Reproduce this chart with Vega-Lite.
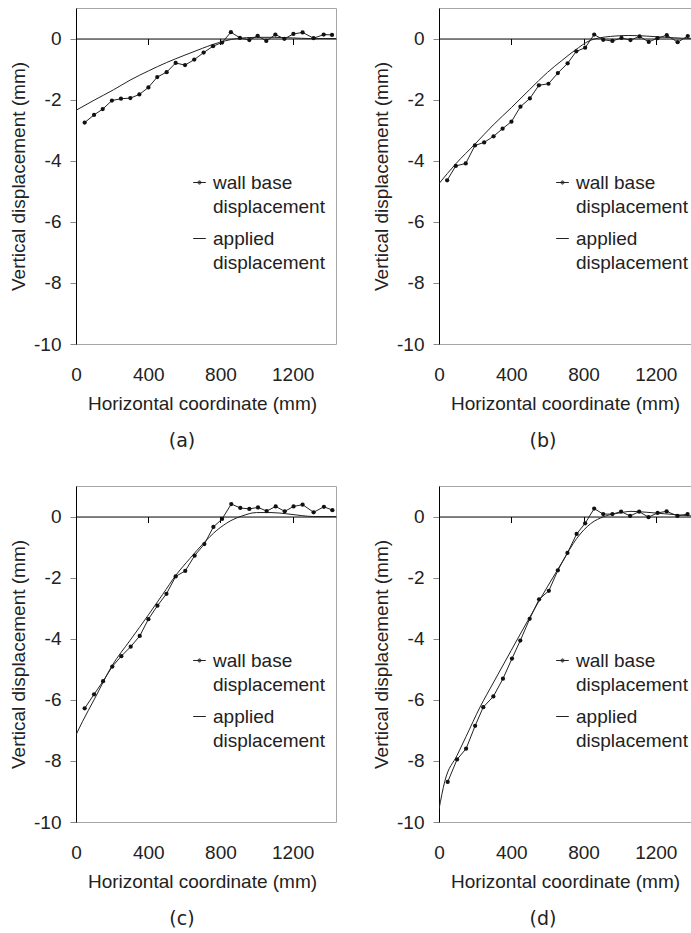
{
  "$schema": "https://vega.github.io/schema/vega-lite/v6.json",
  "autosize": {"type": "pad"},
  "padding": {"left": 9, "top": 7, "right": 0, "bottom": 0},
  "background": "white",
  "columns": 2,
  "spacing": {"row": 142, "column": 103},
  "bounds": "flush",
  "data": {"values": [
    {"p":"a","s":"wall","x":48,"y":-2.75},{"p":"a","s":"wall","x":100,"y":-2.5},{"p":"a","s":"wall","x":148,"y":-2.31},{"p":"a","s":"wall","x":199,"y":-2.03},{"p":"a","s":"wall","x":249,"y":-1.97},{"p":"a","s":"wall","x":301,"y":-1.95},{"p":"a","s":"wall","x":351,"y":-1.83},{"p":"a","s":"wall","x":401,"y":-1.6},{"p":"a","s":"wall","x":450,"y":-1.26},{"p":"a","s":"wall","x":502,"y":-1.1},{"p":"a","s":"wall","x":552,"y":-0.8},{"p":"a","s":"wall","x":604,"y":-0.87},{"p":"a","s":"wall","x":655,"y":-0.69},{"p":"a","s":"wall","x":707,"y":-0.46},{"p":"a","s":"wall","x":759,"y":-0.25},{"p":"a","s":"wall","x":809,"y":-0.13},{"p":"a","s":"wall","x":858,"y":0.21},{"p":"a","s":"wall","x":908,"y":0.02},{"p":"a","s":"wall","x":960,"y":-0.05},{"p":"a","s":"wall","x":1006,"y":0.09},{"p":"a","s":"wall","x":1054,"y":-0.08},{"p":"a","s":"wall","x":1104,"y":0.13},{"p":"a","s":"wall","x":1154,"y":-0.01},{"p":"a","s":"wall","x":1204,"y":0.15},{"p":"a","s":"wall","x":1255,"y":0.2},{"p":"a","s":"wall","x":1316,"y":0.01},{"p":"a","s":"wall","x":1372,"y":0.13},{"p":"a","s":"wall","x":1418,"y":0.12},
    {"p":"a","s":"applied","x":0,"y":-2.35},{"p":"a","s":"applied","x":100,"y":-2.02},{"p":"a","s":"applied","x":207,"y":-1.68},{"p":"a","s":"applied","x":300,"y":-1.36},{"p":"a","s":"applied","x":401,"y":-1.06},{"p":"a","s":"applied","x":500,"y":-0.79},{"p":"a","s":"applied","x":604,"y":-0.54},{"p":"a","s":"applied","x":700,"y":-0.32},{"p":"a","s":"applied","x":760,"y":-0.19},{"p":"a","s":"applied","x":830,"y":-0.07},{"p":"a","s":"applied","x":890,"y":0},{"p":"a","s":"applied","x":1000,"y":0.04},{"p":"a","s":"applied","x":1100,"y":0.04},{"p":"a","s":"applied","x":1200,"y":0.02},{"p":"a","s":"applied","x":1300,"y":0},{"p":"a","s":"applied","x":1440,"y":0},
    {"p":"b","s":"wall","x":45,"y":-4.64},{"p":"b","s":"wall","x":93,"y":-4.17},{"p":"b","s":"wall","x":148,"y":-4.09},{"p":"b","s":"wall","x":199,"y":-3.5},{"p":"b","s":"wall","x":250,"y":-3.4},{"p":"b","s":"wall","x":302,"y":-3.2},{"p":"b","s":"wall","x":352,"y":-2.95},{"p":"b","s":"wall","x":401,"y":-2.72},{"p":"b","s":"wall","x":451,"y":-2.23},{"p":"b","s":"wall","x":503,"y":-1.96},{"p":"b","s":"wall","x":553,"y":-1.53},{"p":"b","s":"wall","x":606,"y":-1.48},{"p":"b","s":"wall","x":658,"y":-1.13},{"p":"b","s":"wall","x":712,"y":-0.81},{"p":"b","s":"wall","x":760,"y":-0.42},{"p":"b","s":"wall","x":809,"y":-0.3},{"p":"b","s":"wall","x":859,"y":0.13},{"p":"b","s":"wall","x":909,"y":-0.04},{"p":"b","s":"wall","x":960,"y":-0.08},{"p":"b","s":"wall","x":1010,"y":0.02},{"p":"b","s":"wall","x":1060,"y":-0.05},{"p":"b","s":"wall","x":1110,"y":0.07},{"p":"b","s":"wall","x":1161,"y":-0.11},{"p":"b","s":"wall","x":1209,"y":0.01},{"p":"b","s":"wall","x":1261,"y":0.11},{"p":"b","s":"wall","x":1321,"y":-0.12},{"p":"b","s":"wall","x":1377,"y":0.08},
    {"p":"b","s":"applied","x":0,"y":-4.75},{"p":"b","s":"applied","x":93,"y":-4.1},{"p":"b","s":"applied","x":200,"y":-3.45},{"p":"b","s":"applied","x":300,"y":-2.83},{"p":"b","s":"applied","x":401,"y":-2.26},{"p":"b","s":"applied","x":500,"y":-1.68},{"p":"b","s":"applied","x":600,"y":-1.11},{"p":"b","s":"applied","x":680,"y":-0.72},{"p":"b","s":"applied","x":749,"y":-0.4},{"p":"b","s":"applied","x":842,"y":-0.05},{"p":"b","s":"applied","x":950,"y":0.07},{"p":"b","s":"applied","x":1047,"y":0.1},{"p":"b","s":"applied","x":1150,"y":0.08},{"p":"b","s":"applied","x":1250,"y":0.04},{"p":"b","s":"applied","x":1350,"y":0.01},{"p":"b","s":"applied","x":1440,"y":0},
    {"p":"c","s":"wall","x":48,"y":-6.28},{"p":"c","s":"wall","x":100,"y":-5.82},{"p":"c","s":"wall","x":150,"y":-5.39},{"p":"c","s":"wall","x":201,"y":-4.91},{"p":"c","s":"wall","x":251,"y":-4.57},{"p":"c","s":"wall","x":303,"y":-4.26},{"p":"c","s":"wall","x":353,"y":-3.91},{"p":"c","s":"wall","x":401,"y":-3.36},{"p":"c","s":"wall","x":451,"y":-2.92},{"p":"c","s":"wall","x":501,"y":-2.53},{"p":"c","s":"wall","x":552,"y":-1.96},{"p":"c","s":"wall","x":605,"y":-1.78},{"p":"c","s":"wall","x":657,"y":-1.28},{"p":"c","s":"wall","x":711,"y":-0.9},{"p":"c","s":"wall","x":761,"y":-0.34},{"p":"c","s":"wall","x":809,"y":-0.08},{"p":"c","s":"wall","x":860,"y":0.41},{"p":"c","s":"wall","x":910,"y":0.28},{"p":"c","s":"wall","x":960,"y":0.25},{"p":"c","s":"wall","x":1008,"y":0.3},{"p":"c","s":"wall","x":1056,"y":0.18},{"p":"c","s":"wall","x":1106,"y":0.33},{"p":"c","s":"wall","x":1156,"y":0.17},{"p":"c","s":"wall","x":1205,"y":0.33},{"p":"c","s":"wall","x":1255,"y":0.39},{"p":"c","s":"wall","x":1316,"y":0.14},{"p":"c","s":"wall","x":1373,"y":0.32},{"p":"c","s":"wall","x":1420,"y":0.21},
    {"p":"c","s":"applied","x":0,"y":-7.15},{"p":"c","s":"applied","x":37,"y":-6.7},{"p":"c","s":"applied","x":100,"y":-6.0},{"p":"c","s":"applied","x":201,"y":-4.87},{"p":"c","s":"applied","x":300,"y":-4.05},{"p":"c","s":"applied","x":401,"y":-3.22},{"p":"c","s":"applied","x":480,"y":-2.55},{"p":"c","s":"applied","x":552,"y":-1.93},{"p":"c","s":"applied","x":630,"y":-1.38},{"p":"c","s":"applied","x":705,"y":-0.88},{"p":"c","s":"applied","x":780,"y":-0.45},{"p":"c","s":"applied","x":853,"y":-0.15},{"p":"c","s":"applied","x":920,"y":0.02},{"p":"c","s":"applied","x":1000,"y":0.13},{"p":"c","s":"applied","x":1080,"y":0.13},{"p":"c","s":"applied","x":1167,"y":0.09},{"p":"c","s":"applied","x":1250,"y":0.03},{"p":"c","s":"applied","x":1314,"y":0},{"p":"c","s":"applied","x":1440,"y":0},
    {"p":"d","s":"wall","x":48,"y":-8.69},{"p":"d","s":"wall","x":100,"y":-7.95},{"p":"d","s":"wall","x":150,"y":-7.6},{"p":"d","s":"wall","x":200,"y":-6.85},{"p":"d","s":"wall","x":245,"y":-6.24},{"p":"d","s":"wall","x":301,"y":-5.89},{"p":"d","s":"wall","x":354,"y":-5.31},{"p":"d","s":"wall","x":404,"y":-4.65},{"p":"d","s":"wall","x":450,"y":-4.06},{"p":"d","s":"wall","x":502,"y":-3.35},{"p":"d","s":"wall","x":554,"y":-2.71},{"p":"d","s":"wall","x":608,"y":-2.43},{"p":"d","s":"wall","x":658,"y":-1.76},{"p":"d","s":"wall","x":711,"y":-1.19},{"p":"d","s":"wall","x":762,"y":-0.57},{"p":"d","s":"wall","x":809,"y":-0.22},{"p":"d","s":"wall","x":859,"y":0.26},{"p":"d","s":"wall","x":909,"y":0.08},{"p":"d","s":"wall","x":960,"y":0.08},{"p":"d","s":"wall","x":1008,"y":0.16},{"p":"d","s":"wall","x":1058,"y":0.02},{"p":"d","s":"wall","x":1108,"y":0.16},{"p":"d","s":"wall","x":1160,"y":-0.02},{"p":"d","s":"wall","x":1210,"y":0.12},{"p":"d","s":"wall","x":1260,"y":0.17},{"p":"d","s":"wall","x":1320,"y":0.02},{"p":"d","s":"wall","x":1376,"y":0.08},
    {"p":"d","s":"applied","x":0,"y":-9.58},{"p":"d","s":"applied","x":32,"y":-8.67},{"p":"d","s":"applied","x":100,"y":-7.82},{"p":"d","s":"applied","x":150,"y":-7.2},{"p":"d","s":"applied","x":227,"y":-6.24},{"p":"d","s":"applied","x":300,"y":-5.45},{"p":"d","s":"applied","x":400,"y":-4.38},{"p":"d","s":"applied","x":500,"y":-3.32},{"p":"d","s":"applied","x":600,"y":-2.3},{"p":"d","s":"applied","x":683,"y":-1.48},{"p":"d","s":"applied","x":762,"y":-0.72},{"p":"d","s":"applied","x":840,"y":-0.23},{"p":"d","s":"applied","x":914,"y":0},{"p":"d","s":"applied","x":1000,"y":0.12},{"p":"d","s":"applied","x":1063,"y":0.17},{"p":"d","s":"applied","x":1150,"y":0.14},{"p":"d","s":"applied","x":1250,"y":0.09},{"p":"d","s":"applied","x":1398,"y":0.02},{"p":"d","s":"applied","x":1440,"y":0}
  ]},
  "resolve": {
    "scale": {"x": "independent", "y": "independent", "shape": "independent"},
    "legend": {"shape": "independent"}
  },
  "config": {
    "view": {"stroke": "#a6a6a6", "strokeWidth": 1},
    "axis": {"labelFont": "Liberation Sans", "titleFont": "Liberation Sans", "labelFontSize": 19, "titleFontSize": 19, "labelColor": "#222", "titleColor": "#222", "titleFontWeight": "normal", "grid": false},
    "legend": {"labelFont": "Liberation Sans", "labelFontSize": 19, "labelColor": "#222"},
    "style": {"guide-label": {"lineHeight": 24.5}},
    "title": {"font": "DejaVu Sans", "fontSize": 19, "fontWeight": "normal", "color": "#222"}
  },
  "concat": [
    {
      "width": 260, "height": 336,
      "title": {"text": "(a)", "orient": "bottom", "frame": "group", "anchor": "middle", "dx": -24, "offset": 19},
      "transform": [{"filter": "datum.p == 'a'"}],
      "resolve": {"axis": {"x": "independent"}},
      "layer": [
        {"transform": [{"filter": "datum.s == 'applied'"}],
         "mark": {"type": "line", "interpolate": "monotone", "color": "#222", "strokeWidth": 1, "clip": true},
         "encoding": {
           "x": {"field": "x", "type": "quantitative", "scale": {"domain": [0, 1440], "nice": false, "zero": false},
                 "axis": {"orient": "bottom", "values": [0, 400, 800, 1200], "labelExpr": "'' + datum.value", "domain": false, "ticks": false, "tickSize": 0, "labelPadding": 21, "labelFlush": false, "title": "Horizontal coordinate (mm)", "titlePadding": 10, "titleX": 126}},
           "y": {"field": "y", "type": "quantitative", "scale": {"domain": [-10, 1], "nice": false, "zero": false},
                 "axis": {"values": [-10, -8, -6, -4, -2, 0], "labelExpr": "datum.value == 0 ? '0\u00a0' : '' + datum.value", "domainColor": "#000", "tickColor": "#888", "tickSize": 6, "labelPadding": 9, "title": "Vertical displacement (mm)", "titlePadding": 5}}
         }},
        {"transform": [{"filter": "datum.s == 'wall'"}],
         "mark": {"type": "line", "color": "#222", "strokeWidth": 1, "clip": true},
         "encoding": {
           "x": {"field": "x", "type": "quantitative", "axis": {"orient": "top", "offset": -30.545, "values": [400, 800, 1200], "labels": false, "title": null, "domainColor": "#000", "tickColor": "#000", "tickSize": -6}},
           "y": {"field": "y", "type": "quantitative"}
         }},
        {"transform": [{"filter": "datum.s == 'wall'"}],
         "mark": {"type": "point", "filled": true, "color": "#111", "size": 18, "opacity": 1, "clip": true},
         "encoding": {"x": {"field": "x", "type": "quantitative", "axis": null}, "y": {"field": "y", "type": "quantitative"}}},
        {"transform": [{"filter": "false"}],
         "mark": {"type": "point", "filled": false, "color": "#222", "strokeWidth": 1, "opacity": 1},
         "encoding": {"shape": {"field": "s", "type": "nominal",
           "scale": {"domain": ["wall", "applied"], "range": ["M-1,0H1M-0.1,0A0.1,0.1,0,1,1,0.1,0A0.1,0.1,0,1,1,-0.1,0ZM-0.25,0A0.25,0.25,0,1,1,0.25,0A0.25,0.25,0,1,1,-0.25,0Z", "M-1,0H1"]},
           "legend": {"orient": "none", "legendX": 114, "legendY": 165, "title": null, "padding": 0, "symbolSize": 160, "symbolStrokeWidth": 1, "symbolStrokeColor": "#222", "labelOffset": 4, "rowPadding": 12,
             "labelExpr": "datum.value == 'wall' ? ['wall base', 'displacement'] : ['applied', 'displacement']"}}}}
      ]
    },
    {
      "width": 252, "height": 336,
      "title": {"text": "(b)", "orient": "bottom", "frame": "group", "anchor": "middle", "dx": -22, "offset": 19},
      "transform": [{"filter": "datum.p == 'b'"}],
      "resolve": {"axis": {"x": "independent"}},
      "layer": [
        {"transform": [{"filter": "datum.s == 'applied'"}],
         "mark": {"type": "line", "interpolate": "monotone", "color": "#222", "strokeWidth": 1, "clip": true},
         "encoding": {
           "x": {"field": "x", "type": "quantitative", "scale": {"domain": [0, 1395], "nice": false, "zero": false},
                 "axis": {"orient": "bottom", "values": [0, 400, 800, 1200], "labelExpr": "'' + datum.value", "domain": false, "ticks": false, "tickSize": 0, "labelPadding": 21, "labelFlush": false, "title": "Horizontal coordinate (mm)", "titlePadding": 10, "titleX": 126}},
           "y": {"field": "y", "type": "quantitative", "scale": {"domain": [-10, 1], "nice": false, "zero": false},
                 "axis": {"values": [-10, -8, -6, -4, -2, 0], "labelExpr": "datum.value == 0 ? '0\u00a0' : '' + datum.value", "domainColor": "#000", "tickColor": "#888", "tickSize": 6, "labelPadding": 9, "title": "Vertical displacement (mm)", "titlePadding": 5}}
         }},
        {"transform": [{"filter": "datum.s == 'wall'"}],
         "mark": {"type": "line", "color": "#222", "strokeWidth": 1, "clip": true},
         "encoding": {
           "x": {"field": "x", "type": "quantitative", "axis": {"orient": "top", "offset": -30.545, "values": [400, 800, 1200], "labels": false, "title": null, "domainColor": "#000", "tickColor": "#000", "tickSize": -6}},
           "y": {"field": "y", "type": "quantitative"}
         }},
        {"transform": [{"filter": "datum.s == 'wall'"}],
         "mark": {"type": "point", "filled": true, "color": "#111", "size": 18, "opacity": 1, "clip": true},
         "encoding": {"x": {"field": "x", "type": "quantitative", "axis": null}, "y": {"field": "y", "type": "quantitative"}}},
        {"transform": [{"filter": "false"}],
         "mark": {"type": "point", "filled": false, "color": "#222", "strokeWidth": 1, "opacity": 1},
         "encoding": {"shape": {"field": "s", "type": "nominal",
           "scale": {"domain": ["wall", "applied"], "range": ["M-1,0H1M-0.1,0A0.1,0.1,0,1,1,0.1,0A0.1,0.1,0,1,1,-0.1,0ZM-0.25,0A0.25,0.25,0,1,1,0.25,0A0.25,0.25,0,1,1,-0.25,0Z", "M-1,0H1"]},
           "legend": {"orient": "none", "legendX": 114, "legendY": 165, "title": null, "padding": 0, "symbolSize": 160, "symbolStrokeWidth": 1, "symbolStrokeColor": "#222", "labelOffset": 4, "rowPadding": 12,
             "labelExpr": "datum.value == 'wall' ? ['wall base', 'displacement'] : ['applied', 'displacement']"}}}}
      ]
    },
    {
      "width": 260, "height": 336,
      "title": {"text": "(c)", "orient": "bottom", "frame": "group", "anchor": "middle", "dx": -24, "offset": 19},
      "transform": [{"filter": "datum.p == 'c'"}],
      "resolve": {"axis": {"x": "independent"}},
      "layer": [
        {"transform": [{"filter": "datum.s == 'applied'"}],
         "mark": {"type": "line", "interpolate": "monotone", "color": "#222", "strokeWidth": 1, "clip": true},
         "encoding": {
           "x": {"field": "x", "type": "quantitative", "scale": {"domain": [0, 1440], "nice": false, "zero": false},
                 "axis": {"orient": "bottom", "values": [0, 400, 800, 1200], "labelExpr": "'' + datum.value", "domain": false, "ticks": false, "tickSize": 0, "labelPadding": 21, "labelFlush": false, "title": "Horizontal coordinate (mm)", "titlePadding": 10, "titleX": 126}},
           "y": {"field": "y", "type": "quantitative", "scale": {"domain": [-10, 1], "nice": false, "zero": false},
                 "axis": {"values": [-10, -8, -6, -4, -2, 0], "labelExpr": "datum.value == 0 ? '0\u00a0' : '' + datum.value", "domainColor": "#000", "tickColor": "#888", "tickSize": 6, "labelPadding": 9, "title": "Vertical displacement (mm)", "titlePadding": 5}}
         }},
        {"transform": [{"filter": "datum.s == 'wall'"}],
         "mark": {"type": "line", "color": "#222", "strokeWidth": 1, "clip": true},
         "encoding": {
           "x": {"field": "x", "type": "quantitative", "axis": {"orient": "top", "offset": -30.545, "values": [400, 800, 1200], "labels": false, "title": null, "domainColor": "#000", "tickColor": "#000", "tickSize": -6}},
           "y": {"field": "y", "type": "quantitative"}
         }},
        {"transform": [{"filter": "datum.s == 'wall'"}],
         "mark": {"type": "point", "filled": true, "color": "#111", "size": 18, "opacity": 1, "clip": true},
         "encoding": {"x": {"field": "x", "type": "quantitative", "axis": null}, "y": {"field": "y", "type": "quantitative"}}},
        {"transform": [{"filter": "false"}],
         "mark": {"type": "point", "filled": false, "color": "#222", "strokeWidth": 1, "opacity": 1},
         "encoding": {"shape": {"field": "s", "type": "nominal",
           "scale": {"domain": ["wall", "applied"], "range": ["M-1,0H1M-0.1,0A0.1,0.1,0,1,1,0.1,0A0.1,0.1,0,1,1,-0.1,0ZM-0.25,0A0.25,0.25,0,1,1,0.25,0A0.25,0.25,0,1,1,-0.25,0Z", "M-1,0H1"]},
           "legend": {"orient": "none", "legendX": 114, "legendY": 165, "title": null, "padding": 0, "symbolSize": 160, "symbolStrokeWidth": 1, "symbolStrokeColor": "#222", "labelOffset": 4, "rowPadding": 12,
             "labelExpr": "datum.value == 'wall' ? ['wall base', 'displacement'] : ['applied', 'displacement']"}}}}
      ]
    },
    {
      "width": 252, "height": 336,
      "title": {"text": "(d)", "orient": "bottom", "frame": "group", "anchor": "middle", "dx": -22, "offset": 19},
      "transform": [{"filter": "datum.p == 'd'"}],
      "resolve": {"axis": {"x": "independent"}},
      "layer": [
        {"transform": [{"filter": "datum.s == 'applied'"}],
         "mark": {"type": "line", "interpolate": "monotone", "color": "#222", "strokeWidth": 1, "clip": true},
         "encoding": {
           "x": {"field": "x", "type": "quantitative", "scale": {"domain": [0, 1395], "nice": false, "zero": false},
                 "axis": {"orient": "bottom", "values": [0, 400, 800, 1200], "labelExpr": "'' + datum.value", "domain": false, "ticks": false, "tickSize": 0, "labelPadding": 21, "labelFlush": false, "title": "Horizontal coordinate (mm)", "titlePadding": 10, "titleX": 126}},
           "y": {"field": "y", "type": "quantitative", "scale": {"domain": [-10, 1], "nice": false, "zero": false},
                 "axis": {"values": [-10, -8, -6, -4, -2, 0], "labelExpr": "datum.value == 0 ? '0\u00a0' : '' + datum.value", "domainColor": "#000", "tickColor": "#888", "tickSize": 6, "labelPadding": 9, "title": "Vertical displacement (mm)", "titlePadding": 5}}
         }},
        {"transform": [{"filter": "datum.s == 'wall'"}],
         "mark": {"type": "line", "color": "#222", "strokeWidth": 1, "clip": true},
         "encoding": {
           "x": {"field": "x", "type": "quantitative", "axis": {"orient": "top", "offset": -30.545, "values": [400, 800, 1200], "labels": false, "title": null, "domainColor": "#000", "tickColor": "#000", "tickSize": -6}},
           "y": {"field": "y", "type": "quantitative"}
         }},
        {"transform": [{"filter": "datum.s == 'wall'"}],
         "mark": {"type": "point", "filled": true, "color": "#111", "size": 18, "opacity": 1, "clip": true},
         "encoding": {"x": {"field": "x", "type": "quantitative", "axis": null}, "y": {"field": "y", "type": "quantitative"}}},
        {"transform": [{"filter": "false"}],
         "mark": {"type": "point", "filled": false, "color": "#222", "strokeWidth": 1, "opacity": 1},
         "encoding": {"shape": {"field": "s", "type": "nominal",
           "scale": {"domain": ["wall", "applied"], "range": ["M-1,0H1M-0.1,0A0.1,0.1,0,1,1,0.1,0A0.1,0.1,0,1,1,-0.1,0ZM-0.25,0A0.25,0.25,0,1,1,0.25,0A0.25,0.25,0,1,1,-0.25,0Z", "M-1,0H1"]},
           "legend": {"orient": "none", "legendX": 114, "legendY": 165, "title": null, "padding": 0, "symbolSize": 160, "symbolStrokeWidth": 1, "symbolStrokeColor": "#222", "labelOffset": 4, "rowPadding": 12,
             "labelExpr": "datum.value == 'wall' ? ['wall base', 'displacement'] : ['applied', 'displacement']"}}}}
      ]
    }
  ]
}
